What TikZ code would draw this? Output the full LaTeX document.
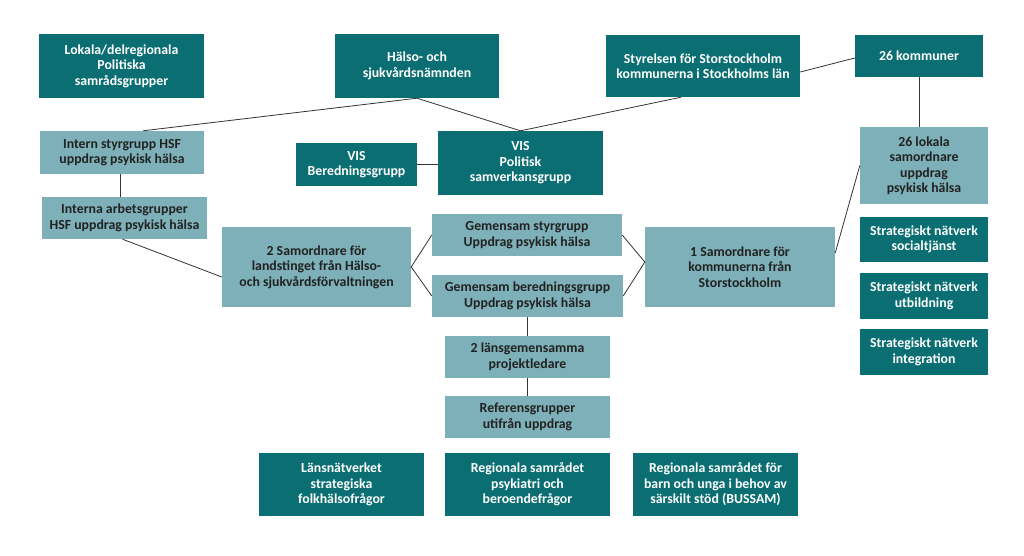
\documentclass[tikz,border=0pt]{standalone}
\usepackage{fontspec}
\setmainfont{Carlito}
\definecolor{darkteal}{HTML}{0A6E72}
\definecolor{lightteal}{HTML}{7DB0B8}
\definecolor{txtdark}{HTML}{222222}
\definecolor{linecol}{HTML}{333333}
\begin{document}
\begin{tikzpicture}[x=1pt,y=-1pt,
  box/.style={minimum width=#1,inner sep=0pt,align=center,
     font=\fontsize{13.8}{15.5}\selectfont\bfseries},
  dbox/.style={box=#1,fill=darkteal,text=white},
  lbox/.style={box=#1,fill=lightteal,text=txtdark},
  conn/.style={draw=linecol,line width=0.8pt}]
\useasboundingbox (0,0) rectangle (1024,555);
\fill[white] (0,0) rectangle (1024,555);
% top row
\node[dbox=165pt,minimum height=64pt] (lokala) at (121.5,66) {Lokala/delregionala\\Politiska\\samrådsgrupper};
\node[dbox=164pt,minimum height=64pt] (halso) at (417,66) {Hälso- och\\sjukvårdsnämnden};
\node[dbox=194pt,minimum height=62pt] (styr) at (703,66) {Styrelsen för Storstockholm\\kommunerna i Stockholms län};
\node[dbox=128pt,minimum height=42pt] (komm) at (919,56) {26 kommuner};
% second row
\node[lbox=164pt,minimum height=43pt] (intern) at (122,152.5) {Intern styrgrupp HSF\\uppdrag psykisk hälsa};
\node[dbox=121pt,minimum height=43pt] (visb) at (356.5,164.5) {VIS\\Beredningsgrupp};
\node[dbox=165pt,minimum height=64pt] (visp) at (520.5,163) {VIS\\Politisk\\samverkansgrupp};
\node[lbox=128pt,minimum height=77pt] (lok26) at (924,165.5) {26 lokala\\samordnare\\uppdrag\\psykisk hälsa};
% middle
\node[lbox=165pt,minimum height=42pt] (interna) at (124.5,218) {Interna arbetsgrupper\\HSF uppdrag psykisk hälsa};
\node[lbox=189pt,minimum height=80pt] (sam2) at (316.5,267) {2 Samordnare för\\landstinget från Hälso-\\och sjukvårdsförvaltningen};
\node[lbox=190pt,minimum height=42pt] (gstyr) at (527,235) {Gemensam styrgrupp\\Uppdrag psykisk hälsa};
\node[lbox=191pt,minimum height=42pt] (gber) at (527.5,296) {Gemensam beredningsgrupp\\Uppdrag psykisk hälsa};
\node[lbox=190pt,minimum height=80pt] (sam1) at (740,267) {1 Samordnare för\\kommunerna från\\Storstockholm};
\node[dbox=128pt,minimum height=45pt] (snsoc) at (924,239.5) {Strategiskt nätverk\\socialtjänst};
\node[dbox=128pt,minimum height=46pt] (snutb) at (924,296) {Strategiskt nätverk\\utbildning};
\node[dbox=128pt,minimum height=46pt] (snint) at (924,352) {Strategiskt nätverk\\integration};
\node[lbox=165pt,minimum height=42pt] (lans2) at (527.5,357) {2 länsgemensamma\\projektledare};
\node[lbox=165pt,minimum height=42pt] (ref) at (527.5,417) {Referensgrupper\\utifrån uppdrag};
% bottom row
\node[dbox=165pt,minimum height=63pt] (lansn) at (341.5,484.5) {Länsnätverket\\strategiska\\folkhälsofrågor};
\node[dbox=165pt,minimum height=63pt] (regps) at (527.5,484.5) {Regionala samrådet\\psykiatri och\\beroendefrågor};
\node[dbox=165pt,minimum height=63pt] (buss) at (715.5,484.5) {Regionala samrådet för\\barn och unga i behov av\\särskilt stöd (BUSSAM)};
% connectors
\draw[conn] (halso.south) -- ([xshift=21pt]intern.north);
\draw[conn] (halso.south) -- (visp.north);
\draw[conn] ([xshift=-22pt]styr.south) -- (visp.north);
\draw[conn] ([yshift=-6pt]styr.east) -- ([yshift=-2pt]komm.west);
\draw[conn] (komm.south) -- (komm.south |- lok26.north);
\draw[conn] (visb.east) -- (visb.east -| visp.west);
\draw[conn] ([xshift=-2pt]intern.south) -- ([xshift=-2pt]intern.south |- interna.north);
\draw[conn] ([xshift=-2pt]interna.south) -- ([yshift=-10pt]sam2.west);
\draw[conn] (gstyr.west) -- (sam2.east) -- (gber.west);
\draw[conn] (gstyr.east) -- ([yshift=5pt]sam1.west) -- (gber.east);
\draw[conn] ([yshift=14pt]sam1.east) -- (lok26.west);
\draw[conn] (gber.south) -- (lans2.north);
\draw[conn] (lans2.south) -- (ref.north);
\end{tikzpicture}
\end{document}
